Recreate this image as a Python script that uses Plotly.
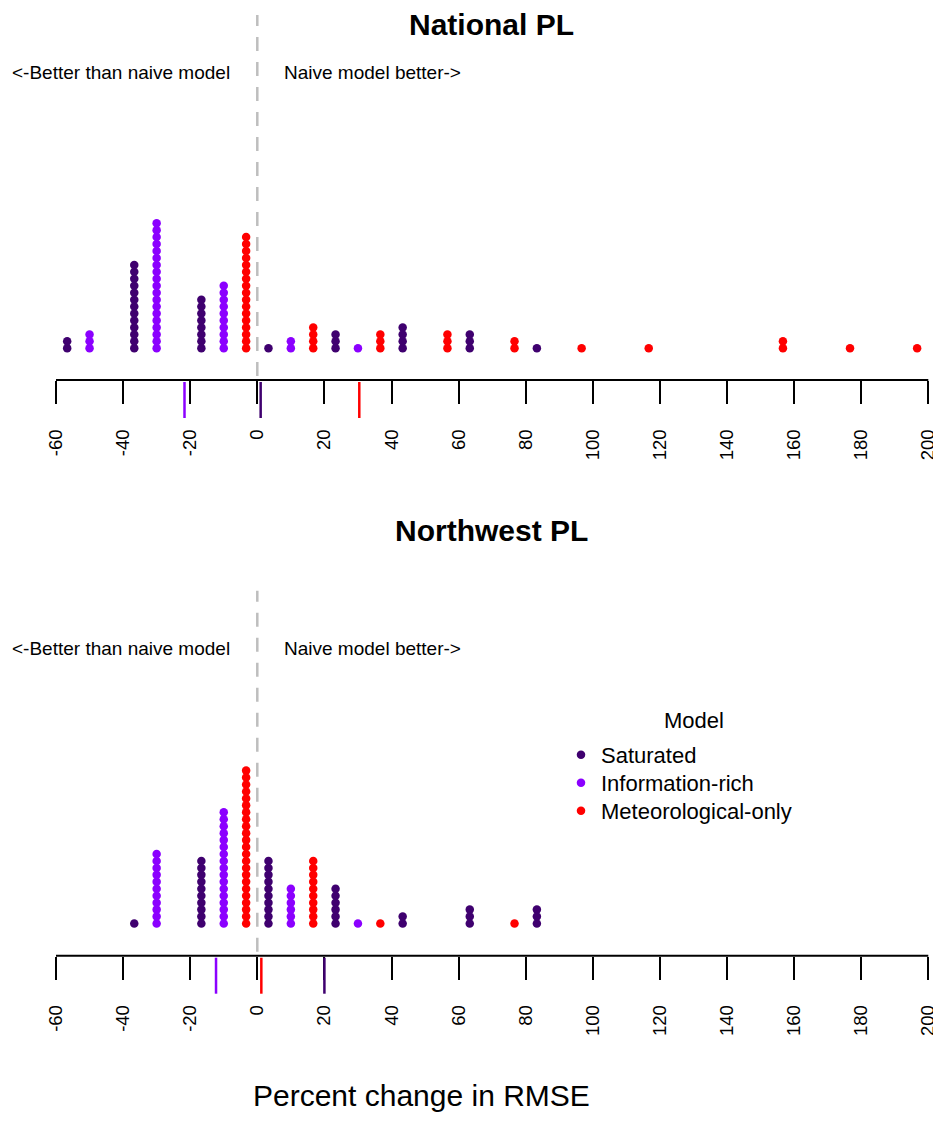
import plotly.graph_objects as go

# the page body adds an 8px margin; the figure is sized/positioned to compensate
OFF = 8
W, H = 941 - OFF, 1138 - OFF
FONT = "Liberation Sans, Arial, sans-serif"

models = ["Saturated", "Information-rich", "Meteorological-only"]
colors = ["#3F006F", "#8B00FF", "#FF0000"]

# ---- National PL: bin centres (percent change in RMSE) and number of dots ----
nat_sat_x = [-56.67, -36.67, -16.67, 3.33, 23.33, 43.33, 63.33, 83.33]
nat_sat_n = [2, 13, 8, 1, 3, 4, 3, 1]
nat_inf_x = [-50.0, -30.0, -10.0, 10.0, 30.0]
nat_inf_n = [3, 19, 10, 2, 1]
nat_met_x = [-3.33, 16.67, 36.67, 56.67, 76.67, 96.67, 116.67, 156.67, 176.67, 196.67]
nat_met_n = [17, 4, 3, 3, 2, 1, 1, 2, 1, 1]
nat_means = [1.0, -21.7, 30.4]          # Saturated, Information-rich, Meteorological-only

# ---- Northwest PL ----
nw_sat_x = [-36.67, -16.67, 3.33, 23.33, 43.33, 63.33, 83.33]
nw_sat_n = [1, 10, 10, 6, 2, 3, 3]
nw_inf_x = [-30.0, -10.0, 10.0, 30.0]
nw_inf_n = [11, 17, 6, 1]
nw_met_x = [-3.33, 16.67, 36.67, 76.67]
nw_met_n = [23, 10, 1, 1]
nw_means = [20.0, -12.3, 1.2]

x_ticks = list(range(-60, 201, 20))
panel_titles = ["National PL", "Northwest PL"]

panels = [
    ([(nat_sat_x, nat_sat_n), (nat_inf_x, nat_inf_n), (nat_met_x, nat_met_n)], nat_means),
    ([(nw_sat_x, nw_sat_n), (nw_inf_x, nw_inf_n), (nw_met_x, nw_met_n)], nw_means),
]

fig = go.Figure()

def px(p):
    return (p - OFF) / W

def py(p):
    return 1 - (p - OFF) / H

axis_px = [380.0, 955.7]      # axis line (bottom of each panel), page pixels
panel_h = 365.0
dot_step = 6.95               # px per stacked dot
y_lo = [-4.56, -4.63]

legend_names = ["legend", "legend2", "legend3"]

for pi, (series, means) in enumerate(panels):
    xa = "x" if pi == 0 else "x2"
    ya = "y" if pi == 0 else "y2"
    for mi, (bx, bn) in enumerate(series):
        xs, ys = [], []
        for c, n in zip(bx, bn):
            for k in range(n):
                xs.append(c)
                ys.append(k)
        fig.add_trace(go.Scatter(
            x=xs, y=ys, mode="markers", xaxis=xa, yaxis=ya,
            name=models[mi], legendgroup=models[mi],
            legend=legend_names[mi],
            showlegend=(pi == 1),
            marker=dict(color=colors[mi], size=8.5, line=dict(width=0)),
            hoverinfo="x",
        ))
    xref = xa
    ydom = ya + " domain"
    fig.add_shape(type="line", xref=xref, yref=ydom, x0=x_ticks[0], x1=x_ticks[-1],
                  y0=0, y1=0, line=dict(color="black", width=2))
    fig.add_shape(type="line", xref=xref, yref=ydom, x0=0, x1=0, y0=0.011, y1=1.0,
                  line=dict(color="#BEBEBE", width=2.5, dash="14px,11px"))
    for mi, m in enumerate(means):
        fig.add_shape(type="line", xref=xref, yref=ydom, x0=m, x1=m,
                      y0=-2 / panel_h, y1=-38 / panel_h,
                      line=dict(color=colors[mi], width=2.5))
    ytxt = (axis_px[pi] - (73 if pi == 0 else 648)) / panel_h
    fig.add_annotation(xref=xref, yref=ydom, x=0, y=ytxt, xanchor="right", yanchor="middle",
                       xshift=-25, text="<-Better than naive model", showarrow=False,
                       font=dict(family=FONT, size=19, color="black"))
    fig.add_annotation(xref=xref, yref=ydom, x=0, y=ytxt, xanchor="left", yanchor="middle",
                       xshift=25, text="Naive model better->", showarrow=False,
                       font=dict(family=FONT, size=19, color="black"))
    fig.add_annotation(xref="paper", yref="paper", x=px(491), y=py(25 if pi == 0 else 530),
                       xanchor="center", yanchor="middle", showarrow=False,
                       text="<b>" + panel_titles[pi] + "</b>",
                       font=dict(family=FONT, size=30, color="black"))

px_per_unit = 3.355
zero_px = 257.3 - OFF
x_range = [-zero_px / px_per_unit, (W - zero_px) / px_per_unit]

axis_common = dict(
    range=x_range, showgrid=False, zeroline=False, showline=False,
    ticks="outside", ticklen=23, tickwidth=2, tickcolor="black",
    tickmode="array", tickvals=x_ticks, ticktext=[str(t) for t in x_ticks],
    tickangle=-90, ticklabelstandoff=18,
    tickfont=dict(family=FONT, size=18.5, color="black"),
)

fig.update_layout(
    width=W, height=H,
    margin=dict(l=0, r=0, t=0, b=0),
    paper_bgcolor="white", plot_bgcolor="white",
    xaxis=dict(domain=[0, 1], anchor="y", **axis_common),
    xaxis2=dict(domain=[0, 1], anchor="y2", **axis_common),
    yaxis=dict(domain=[py(axis_px[0]), py(axis_px[0] - panel_h)],
               range=[y_lo[0], y_lo[0] + panel_h / dot_step], visible=False, anchor="x"),
    yaxis2=dict(domain=[py(axis_px[1]), py(axis_px[1] - panel_h)],
                range=[y_lo[1], y_lo[1] + panel_h / dot_step], visible=False, anchor="x2"),
    showlegend=True,
)

leg_y = [755, 783, 811]
for i, ln in enumerate(legend_names):
    fig.update_layout({ln: dict(x=px(561), y=py(leg_y[i]), xanchor="left", yanchor="middle",
                                bgcolor="rgba(0,0,0,0)", borderwidth=0,
                                font=dict(family=FONT, size=22, color="black"))})

fig.add_annotation(xref="paper", yref="paper", x=px(693.7), y=py(720), xanchor="center",
                   yanchor="middle", showarrow=False, text="Model",
                   font=dict(family=FONT, size=22, color="black"))

fig.add_annotation(xref="paper", yref="paper", x=px(421.5), y=py(1095), xanchor="center",
                   yanchor="middle", showarrow=False, text="Percent change in RMSE",
                   font=dict(family=FONT, size=30, color="black"))

fig.write_html("out.html")
